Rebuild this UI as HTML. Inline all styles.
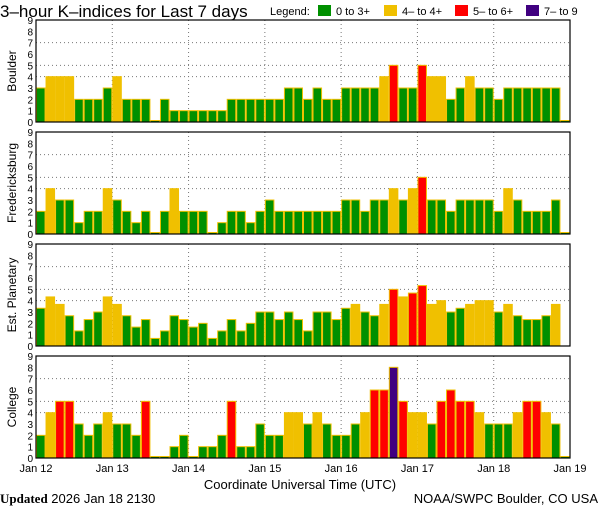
<!DOCTYPE html>
<html><head><meta charset="utf-8"><style>
body{margin:0;background:#fff;width:600px;height:510px;overflow:hidden}
svg text{font-family:"Liberation Sans",sans-serif;fill:#000}
</style></head><body>
<svg id="c" width="600" height="510" xmlns="http://www.w3.org/2000/svg">
<text x="0" y="17" font-size="17">3–hour K–indices for Last 7 days</text>
<g font-size="11">
<text x="270" y="15">Legend:</text>
<rect x="318" y="5" width="13" height="11" fill="#009000"/><text x="336" y="15">0 to 3+</text>
<rect x="384" y="5" width="13" height="11" fill="#f0c000"/><text x="402" y="15">4– to 4+</text>
<rect x="455" y="5" width="13" height="11" fill="#ff0000"/><text x="473" y="15">5– to 6+</text>
<rect x="526" y="5" width="13" height="11" fill="#400080"/><text x="544" y="15">7– to 9</text>
</g>
<text x="300" y="489" font-size="13" text-anchor="middle">Coordinate Universal Time (UTC)</text>
<text x="0" y="503" font-size="13"><tspan font-weight="bold" font-family="Liberation Serif">Updated</tspan> 2026 Jan 18 2130</text>
<text x="598" y="503" font-size="13" text-anchor="end">NOAA/SWPC Boulder, CO USA</text>
</svg>
<script>
const dayLabels=["Jan 12","Jan 13","Jan 14","Jan 15","Jan 16","Jan 17","Jan 18","Jan 19"];
const stations=["Boulder","Fredericksburg","Est. Planetary","College"];
const boulder=[3,4,4,4,2,2,2,3,4,2,2,2,0,2,1,1,1,1,1,1,2,2,2,2,2,2,3,3,2,3,2,2,3,3,3,3,4,5,3,3,5,4,4,2,3,4,3,3,2,3,3,3,3,3,3,0];
const fredericksburg=[2,4,3,3,1,2,2,4,3,2,1,2,0,2,4,2,2,2,0,1,2,2,1,2,3,2,2,2,2,2,2,2,3,3,2,3,3,4,3,4,5,3,3,2,3,3,3,3,2,4,3,2,2,2,3,0];
const planetary=[3.33,4.33,3.67,2.67,1.33,2.33,3,4.33,3.67,2.67,1.67,2.33,0.67,1.33,2.67,2.33,1.67,2,0.67,1.33,2.33,1.33,2,3,3,2.33,3,2.33,1.33,3,3,2.33,3.33,3.67,3,2.67,3.67,5,4.33,4.67,5.33,3.67,4,3,3.33,3.67,4,4,3,3.67,2.67,2.33,2.33,2.67,3.67,null];
const college=[2,4,5,5,3,2,3,4,3,3,2,5,0,0,1,2,0,1,1,2,5,1,1,3,2,2,4,4,3,4,3,2,2,3,4,6,6,8,5,4,4,3,5,6,5,5,4,3,3,3,4,5,5,4,3,0];
const series=[boulder,fredericksburg,planetary,college];
const yTicks=[0,1,2,3,4,5,6,7,8,9];
const gridY=[4,5,7];
const NS="http://www.w3.org/2000/svg";
const svg=document.getElementById('c');
const X0=36,X1=570,N=56;
const panelTops=[20,132,244,356],PH=102;
function xs(i){return X0+(X1-X0)*i/N;}
function mk(t,a,p){const e=document.createElementNS(NS,t);for(const k in a)e.setAttribute(k,a[k]);(p||svg).appendChild(e);return e;}
function col(v){return v>=6.67?"#400080":v>=4.67?"#ff0000":v>=3.67?"#f0c000":"#009000";}
series.forEach((data,p)=>{
  const top=panelTops[p],bot=top+PH;
  const ys=v=>bot-v*PH/9;
  const g=mk('g',{});
  
  
  gridY.forEach(v=>{const l=mk('line',{x1:X0,x2:X1,y1:ys(v),y2:ys(v),stroke:'#777','stroke-dasharray':'1,3'},g);
    });
  for(let d=1;d<7;d++){const l=mk('line',{x1:xs(d*8),x2:xs(d*8),y1:top,y2:bot,stroke:'#777','stroke-dasharray':'1,3'},g);
    }
  data.forEach((v,i)=>{
    if(v===null)return;
    const h=Math.max(v*PH/9,1.5);
    const r=mk('rect',{x:xs(i)+0.5,y:bot-h,width:xs(i+1)-xs(i)-1,height:h,fill:col(v),stroke:'#f0c000','stroke-width':1},g);
    
    
  });
  const f=mk('rect',{x:X0,y:top,width:X1-X0,height:PH,fill:'none',stroke:'#000','stroke-width':1.2},g);
  
  yTicks.forEach(v=>{const t=mk('text',{x:33,y:ys(v)+4,'font-size':10,'text-anchor':'end'},g);t.textContent=v;
    });
  const cy=top+PH/2;
  const t=mk('text',{x:0,y:0,'font-size':12,'text-anchor':'middle',transform:`translate(16,${cy}) rotate(-90)`},g);
  t.textContent=stations[p];
  
});
dayLabels.forEach((s,d)=>{const t=mk('text',{x:xs(d*8),y:472,'font-size':11,'text-anchor':'middle'});t.textContent=s;
  });
</script>
</body></html>
